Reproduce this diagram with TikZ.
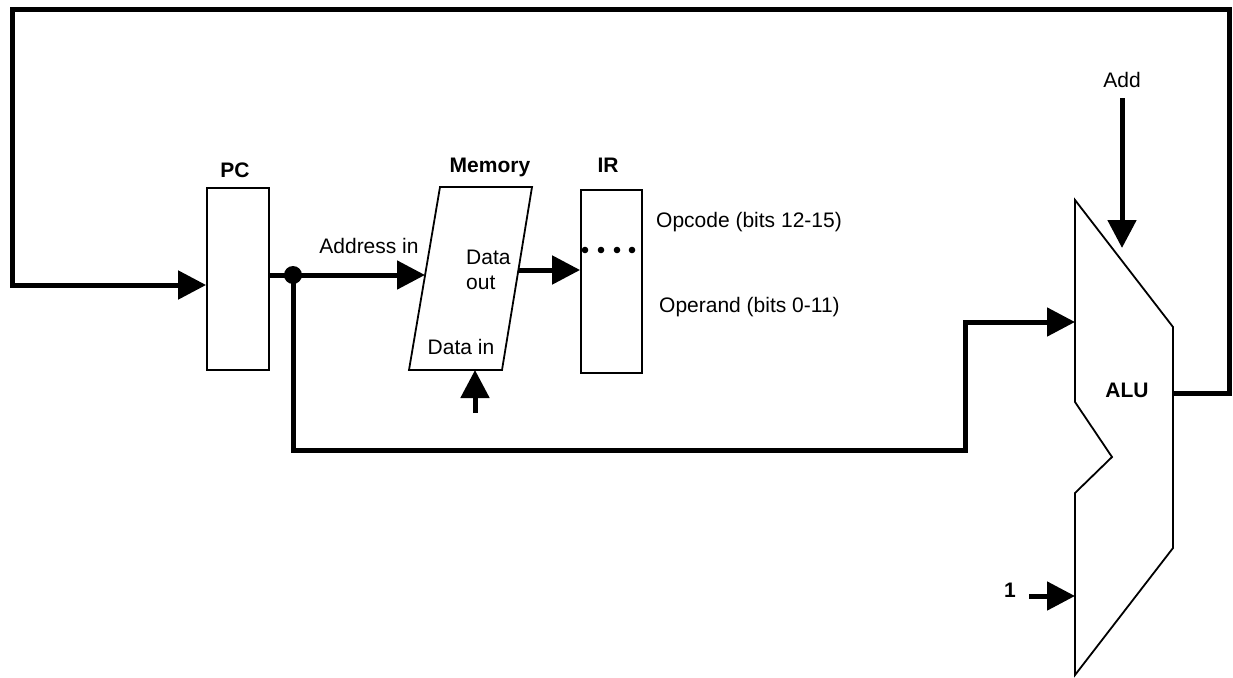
\documentclass[tikz,border=0pt]{standalone}
\usepackage{fontspec}
\setmainfont{Liberation Sans}
\usetikzlibrary{arrows.meta,calc}

\begin{document}
\begin{tikzpicture}[x=1pt,y=-1pt,>={Triangle[length=28pt,width=28pt]},line join=miter]
  \tikzset{
    reg/.style={draw,line width=1.8pt,minimum width=62pt,minimum height=182pt,inner sep=0pt},
    bus/.style={line width=5pt},
    txt/.style={font=\fontsize{21}{25}\selectfont,inner sep=0pt},
    btxt/.style={font=\fontsize{21}{25}\selectfont\bfseries,inner sep=0pt}
  }
  \useasboundingbox (0,0) rectangle (1233,677);
  \node[reg] (pc) at (238,279) {};
  \node[reg,minimum width=61pt,minimum height=183pt] (ir) at (611.5,281.5) {};
  \coordinate (M1) at (440,187);
  \coordinate (M2) at (532,187);
  \coordinate (M3) at (502,370);
  \coordinate (M4) at (409,370);
  \draw[line width=1.8pt] (M1) -- (M2) -- (M3) -- (M4) -- cycle;
  \coordinate (A1) at (1075,200);
  \coordinate (A2) at (1173,327);
  \coordinate (A3) at (1173,548);
  \coordinate (A4) at (1075,675);
  \coordinate (A5) at (1075,493);
  \coordinate (A6) at (1112,457);
  \coordinate (A7) at (1075,402);
  \draw[line width=1.8pt] (A1) -- (A2) -- (A3) -- (A4) -- (A5) -- (A6) -- (A7) -- cycle;
  \coordinate (pcin) at (pc.west |- 0,285);
  \coordinate (pcout) at (pc.east |- 0,275);
  \coordinate (J) at (293,275);
  \coordinate (memin) at (425,275);
  \coordinate (memout) at (518,270);
  \coordinate (irin) at (ir.west |- 0,270);
  \coordinate (aluA) at (1075,322);
  \coordinate (aluB) at (1075,596);
  \coordinate (aluout) at (1173,393);
  \coordinate (addtop) at (1122,98);
  \coordinate (addtip) at (1122,248);
  \coordinate (onein) at (1029,596);
  \coordinate (datain) at (475,413);
  \coordinate (datainM) at (475,370);
  \draw[bus,->] (aluout) -- (1229,393) -- (1229,10) -- (12,10) -- (12,285) -- (pcin);
  \draw[bus] (pcout) -- (J);
  \draw[bus,->] (J) -- (memin);
  \draw[bus,->] (J) -- (293,450) -- (965,450) -- (965,322) -- (aluA);
  \fill (J) circle (9pt);
  \draw[bus,->] (memout) -- (irin);
  \draw[bus,->] (datain) -- (datainM);
  \draw[bus,->] (addtop) -- (addtip);
  \draw[bus,->] (onein) -- (aluB);
  \foreach \x in {585,601,617,632}
    \fill (\x,250) circle (3.3pt);
  \node[btxt] (pclbl) at (235,170) {PC};
  \node[btxt] (memlbl) at (490,167) {Memory};
  \node[btxt] (irlbl) at (608,165) {IR};
  \node[btxt] (alulbl) at (1127,390) {ALU};
  \node[btxt] (onelbl) at (1010,590) {1};
  \node[txt] (addlbl) at (1122,80) {Add};
  \node[txt] (adrlbl) at (369,246) {Address in};
  \node[txt,anchor=west,align=left] (doutlbl) at (466,270) {Data\\out};
  \node[txt] (dinlbl) at (461,347) {Data in};
  \node[txt,anchor=west] (oplbl) at (656,222) {Opcode (bits 12-15)};
  \node[txt,anchor=west] (opdlbl) at (659,307) {Operand (bits 0-11)};
\end{tikzpicture}
\end{document}
